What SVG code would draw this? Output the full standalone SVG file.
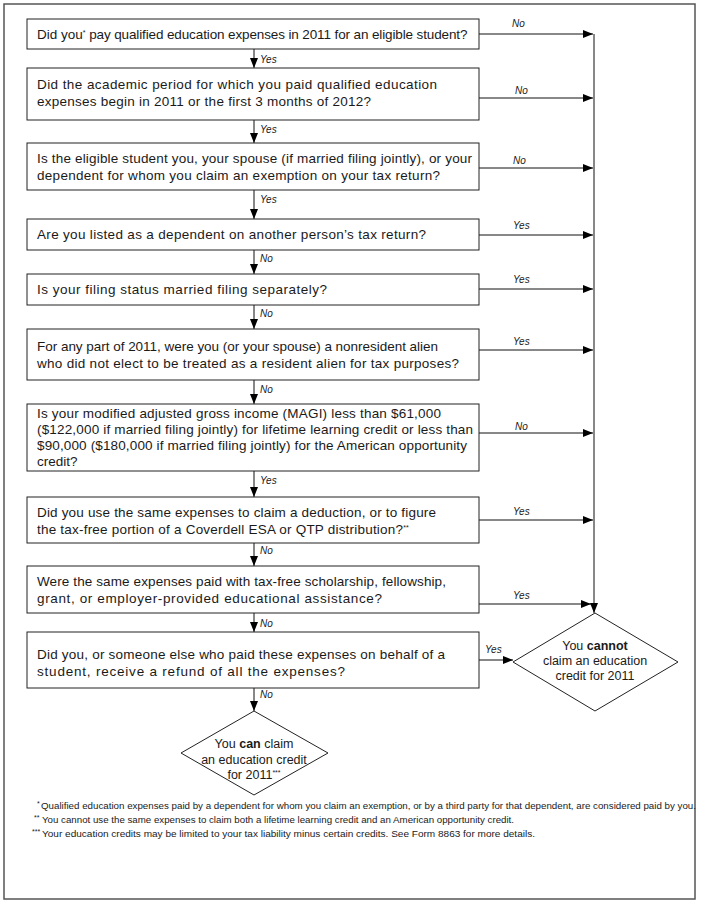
<svg xmlns="http://www.w3.org/2000/svg" width="701" height="903" viewBox="0 0 701 903">
<defs>
<marker id="ah" viewBox="0 0 10 8" refX="10" refY="4" markerWidth="10" markerHeight="8" markerUnits="userSpaceOnUse" orient="auto">
<path d="M0,0 L10,4 L0,8 Z" fill="#000"/>
</marker>
</defs>
<style>
.box{fill:#fff;stroke:#222;stroke-width:1}
.dia{fill:#fff;stroke:#222;stroke-width:1}
.t{font-family:"Liberation Sans",Arial,sans-serif;font-size:13.5px;fill:#1a1a1a}
.d{font-family:"Liberation Sans",Arial,sans-serif;font-size:12.5px;fill:#1a1a1a;text-anchor:middle}
.lb{font-family:"Liberation Sans",Arial,sans-serif;font-size:10px;font-style:italic;fill:#1a1a1a}
.fn{font-family:"Liberation Sans",Arial,sans-serif;font-size:9px;fill:#1a1a1a}
.sup{font-size:7px}
.ln{fill:none;stroke:#111;stroke-width:1}
.ar{fill:none;stroke:#111;stroke-width:1;marker-end:url(#ah)}
</style>
<rect x="4" y="4" width="691" height="895" fill="#fff" stroke="#555" stroke-width="1.5"/>

<g id="connectors">
<line class="ln" x1="594" y1="34" x2="594" y2="600"/>
<line class="ar" x1="594" y1="600" x2="594" y2="613"/>
<line class="ar" x1="479" y1="34" x2="593" y2="34"/>
<line class="ar" x1="479" y1="98" x2="593" y2="98"/>
<line class="ar" x1="479" y1="168" x2="593" y2="168"/>
<line class="ar" x1="479" y1="235" x2="593" y2="235"/>
<line class="ar" x1="479" y1="289" x2="593" y2="289"/>
<line class="ar" x1="479" y1="350" x2="593" y2="350"/>
<line class="ar" x1="479" y1="433" x2="593" y2="433"/>
<line class="ar" x1="479" y1="520" x2="593" y2="520"/>
<line class="ar" x1="479" y1="604" x2="591" y2="604"/>
<line class="ar" x1="479" y1="660" x2="513" y2="660"/>
<line class="ar" x1="254" y1="49" x2="254" y2="68"/>
<line class="ar" x1="254" y1="120" x2="254" y2="143"/>
<line class="ar" x1="254" y1="190" x2="254" y2="219"/>
<line class="ar" x1="254" y1="250" x2="254" y2="274"/>
<line class="ar" x1="254" y1="305" x2="254" y2="329"/>
<line class="ar" x1="254" y1="380" x2="254" y2="404"/>
<line class="ar" x1="254" y1="471" x2="254" y2="497"/>
<line class="ar" x1="254" y1="543" x2="254" y2="566"/>
<line class="ar" x1="254" y1="613" x2="254" y2="632"/>
<line class="ar" x1="254" y1="688" x2="254" y2="711"/>
<text class="lb" x="512" y="27">No</text>
<text class="lb" x="515" y="94">No</text>
<text class="lb" x="513" y="164">No</text>
<text class="lb" x="513" y="229">Yes</text>
<text class="lb" x="513" y="283">Yes</text>
<text class="lb" x="513" y="345">Yes</text>
<text class="lb" x="515" y="430">No</text>
<text class="lb" x="513" y="515">Yes</text>
<text class="lb" x="513" y="599">Yes</text>
<text class="lb" x="485" y="653">Yes</text>
<text class="lb" x="260" y="63">Yes</text>
<text class="lb" x="260" y="133">Yes</text>
<text class="lb" x="260" y="203">Yes</text>
<text class="lb" x="260" y="262">No</text>
<text class="lb" x="260" y="317">No</text>
<text class="lb" x="260" y="393">No</text>
<text class="lb" x="260" y="484">Yes</text>
<text class="lb" x="260" y="554">No</text>
<text class="lb" x="260" y="627">No</text>
<text class="lb" x="260" y="698">No</text>
</g>

<g id="q1">
<rect class="box" x="27" y="19" width="452" height="30"/>
<text class="t" x="37" y="39">Did you<tspan class="sup" dy="-4">*</tspan><tspan dy="4" textLength="382"> pay qualified education expenses in 2011 for an eligible student?</tspan></text>
</g>
<g id="q2">
<rect class="box" x="27" y="68" width="452" height="52"/>
<text class="t" x="37" y="89" textLength="400">Did the academic period for which you paid qualified education</text>
<text class="t" x="37" y="106" textLength="334">expenses begin in 2011 or the first 3 months of 2012?</text>
</g>
<g id="q3">
<rect class="box" x="27" y="143" width="452" height="47"/>
<text class="t" x="37" y="163" textLength="435">Is the eligible student you, your spouse (if married filing jointly), or your</text>
<text class="t" x="37" y="180" textLength="403">dependent for whom you claim an exemption on your tax return?</text>
</g>
<g id="q4">
<rect class="box" x="27" y="219" width="452" height="31"/>
<text class="t" x="37" y="239" textLength="389">Are you listed as a dependent on another person’s tax return?</text>
</g>
<g id="q5">
<rect class="box" x="27" y="274" width="452" height="31"/>
<text class="t" x="37" y="294" textLength="290">Is your filing status married filing separately?</text>
</g>
<g id="q6">
<rect class="box" x="27" y="329" width="452" height="51"/>
<text class="t" x="37" y="351" textLength="401">For any part of 2011, were you (or your spouse) a nonresident alien</text>
<text class="t" x="37" y="368" textLength="422">who did not elect to be treated as a resident alien for tax purposes?</text>
</g>
<g id="q7">
<rect class="box" x="27" y="404" width="452" height="67"/>
<text class="t" x="37" y="418" textLength="404">Is your modified adjusted gross income (MAGI) less than $61,000</text>
<text class="t" x="37" y="434" textLength="436">($122,000 if married filing jointly) for lifetime learning credit or less than</text>
<text class="t" x="37" y="450" textLength="430">$90,000 ($180,000 if married filing jointly) for the American opportunity</text>
<text class="t" x="37" y="466">credit?</text>
</g>
<g id="q8">
<rect class="box" x="27" y="497" width="452" height="46"/>
<text class="t" x="37" y="517" textLength="399">Did you use the same expenses to claim a deduction, or to figure</text>
<text class="t" x="37" y="534"><tspan textLength="366">the tax-free portion of a Coverdell ESA or QTP distribution?</tspan><tspan class="sup" dy="-4">**</tspan></text>
</g>
<g id="q9">
<rect class="box" x="27" y="566" width="452" height="47"/>
<text class="t" x="37" y="586" textLength="409">Were the same expenses paid with tax-free scholarship, fellowship,</text>
<text class="t" x="37" y="603" textLength="345">grant, or employer-provided educational assistance?</text>
</g>
<g id="q10">
<rect class="box" x="27" y="632" width="452" height="56"/>
<text class="t" x="37" y="659" textLength="408">Did you, or someone else who paid these expenses on behalf of a</text>
<text class="t" x="37" y="676" textLength="308">student, receive a refund of all the expenses?</text>
</g>
<g id="cannot">
<polygon class="dia" points="595,613 678,662 595,711 513,662"/>
<text class="d" x="595" y="650">You <tspan font-weight="bold">cannot</tspan></text>
<text class="d" x="595" y="665">claim an education</text>
<text class="d" x="595" y="680">credit for 2011</text>
</g>
<g id="can">
<polygon class="dia" points="254,711 328,753 254,795 181,753"/>
<text class="d" x="254" y="748">You <tspan font-weight="bold">can</tspan> claim</text>
<text class="d" x="254" y="764">an education credit</text>
<text class="d" x="254" y="779">for 2011<tspan class="sup" dy="-4">***</tspan></text>
</g>
<g id="footnotes">
<text class="fn" x="37" y="809"><tspan class="sup" dy="-3">*</tspan><tspan dy="3" x="41" textLength="655" lengthAdjust="spacingAndGlyphs">Qualified education expenses paid by a dependent for whom you claim an exemption, or by a third party for that dependent, are considered paid by you.</tspan></text>
<text class="fn" x="34" y="823"><tspan class="sup" dy="-3">**</tspan><tspan dy="3" x="42" textLength="472" lengthAdjust="spacingAndGlyphs">You cannot use the same expenses to claim both a lifetime learning credit and an American opportunity credit.</tspan></text>
<text class="fn" x="32" y="837"><tspan class="sup" dy="-3">***</tspan><tspan dy="3" x="42" textLength="493" lengthAdjust="spacingAndGlyphs">Your education credits may be limited to your tax liability minus certain credits. See Form 8863 for more details.</tspan></text>
</g>
</svg>
